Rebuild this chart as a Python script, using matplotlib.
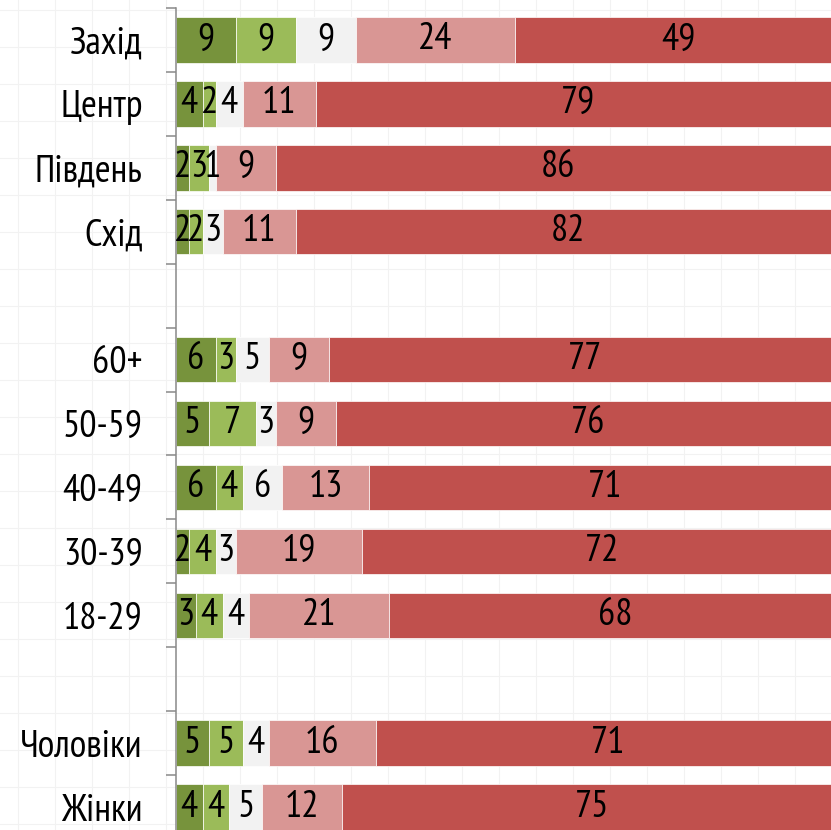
import numpy as np
import matplotlib.pyplot as plt

# ---------- Дані ----------
groups = ["Захід", "Центр", "Південь", "Схід", "",
          "60+", "50-59", "40-49", "30-39", "18-29", "",
          "Чоловіки", "Жінки"]

s_dark_green = [9, 4, 2, 2, None, 6, 5, 6, 2, 3, None, 5, 4]
s_light_green = [9, 2, 3, 2, None, 3, 7, 4, 4, 4, None, 5, 4]
s_grey = [9, 4, 1, 3, None, 5, 3, 6, 3, 4, None, 4, 5]
s_pink = [24, 11, 9, 11, None, 9, 9, 13, 19, 21, None, 16, 12]
s_red = [49, 79, 86, 82, None, 77, 76, 71, 72, 68, None, 71, 75]

series = [s_dark_green, s_light_green, s_grey, s_pink, s_red]
colors = ["#77933C", "#9BBB59", "#F2F2F2", "#D99694", "#C0504D"]

plt.rcParams["font.family"] = ["PT Sans Narrow", "Roboto Condensed", "DejaVu Sans"]

# ---------- Фігура ----------
W, H = 831, 830
fig = plt.figure(figsize=(W / 100, H / 100), dpi=100)

# фонова текстура (світла сітка)
bg = fig.add_axes([0, 0, 1, 1], zorder=-1)
bg.set_xlim(0, W)
bg.set_ylim(H, 0)
bg.set_xticks(np.arange(18, W, 37))
bg.set_yticks(np.arange(10, H, 37))
bg.grid(True, color="#f2f2f2", lw=0.8)
bg.tick_params(length=0, labelbottom=False, labelleft=False)
for sp in bg.spines.values():
    sp.set_visible(False)

ax = fig.add_axes([176 / W, -9 / H, 665 / W, 831 / H])
ax.patch.set_alpha(0)

y = np.arange(len(groups))
left = np.zeros(len(groups))
for vals, c in zip(series, colors):
    v = np.array([np.nan if x is None else x for x in vals], dtype=float)
    bars = ax.barh(y, np.nan_to_num(v), left=left, height=0.71,
                   color=c, edgecolor="white", linewidth=0.5)
    labels = ["" if np.isnan(x) else f"{x:g}" for x in v]
    ax.bar_label(bars, labels=labels, label_type="center",
                 fontsize=27.5, color="black")
    left += np.nan_to_num(v)

ax.set_xlim(0, 100)
ax.set_ylim(len(groups) - 0.5, -0.5)
ax.set_xticks([])
ax.set_yticks(y)
ax.set_yticklabels(groups, fontsize=27.5)
ax.set_yticks(np.arange(len(groups) + 1) - 0.5, minor=True)
ax.tick_params(axis="y", which="major", length=0, pad=24)
ax.tick_params(axis="y", which="minor", length=7.5, width=1.1,
               color="#898989", direction="out")

for side in ["top", "right", "bottom"]:
    ax.spines[side].set_visible(False)
ax.spines["left"].set_color("#898989")
ax.spines["left"].set_linewidth(1.1)

fig.savefig("out.png", dpi=100)
